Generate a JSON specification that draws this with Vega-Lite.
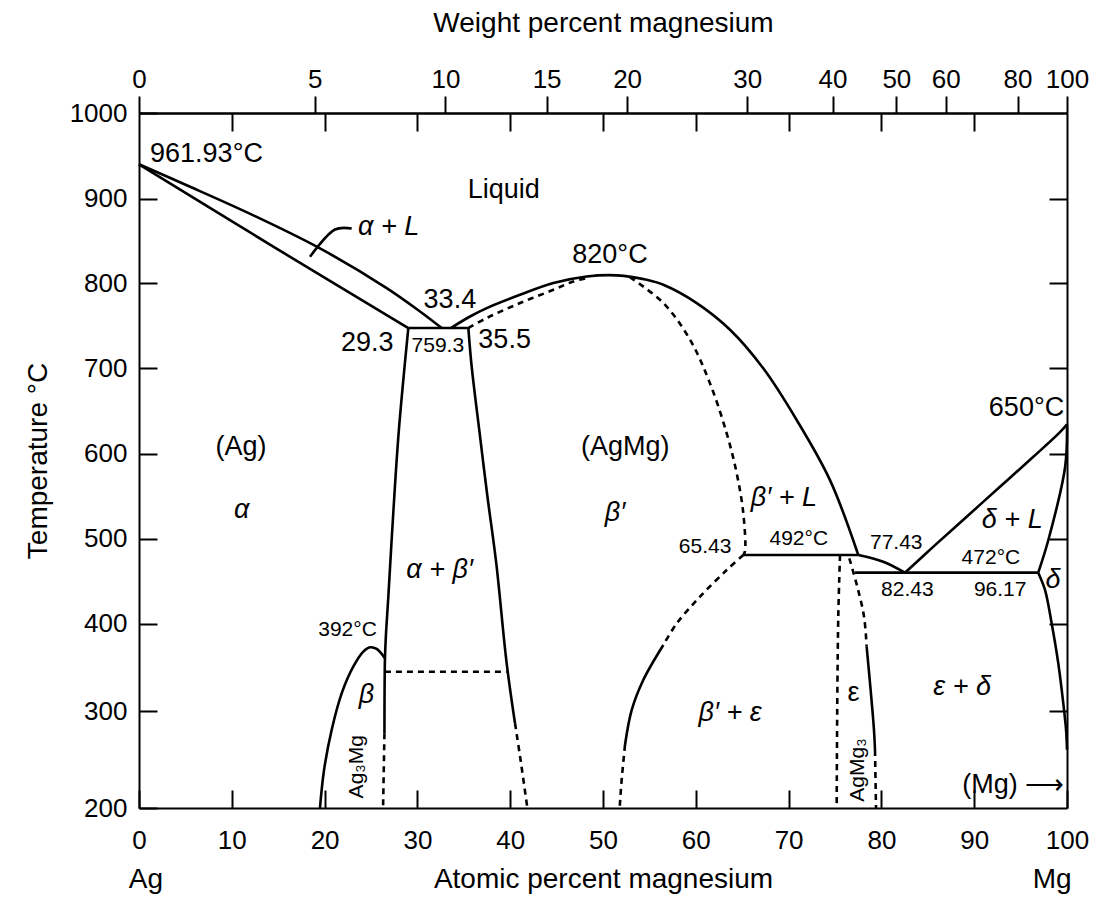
{
  "$schema": "https://vega.github.io/schema/vega-lite/v6.json",
  "width": 928,
  "height": 695,
  "autosize": {"type": "none"},
  "padding": {"left": 139, "top": 113, "right": 32, "bottom": 105},
  "background": "white",
  "config": {
    "view": {"stroke": null},
    "font": "Liberation Sans",
    "axis": {
      "domainColor": "black", "domainWidth": 2, "tickColor": "black", "tickWidth": 2,
      "labelColor": "black", "titleColor": "black", "labelFont": "Liberation Sans", "titleFont": "Liberation Sans",
      "grid": false, "labelFontSize": 26, "titleFontSize": 28, "titleFontWeight": "normal"
    },
    "text": {"font": "Liberation Sans", "color": "black", "baseline": "middle"}
  },
  "resolve": {"axis": {"x": "independent", "y": "independent"}},
  "datasets": {
    "solid": [
      {"id": "s1", "i": 0, "x": 0, "t": 940}, {"id": "s1", "i": 1, "x": 5.14, "t": 915.5}, {"id": "s1", "i": 2, "x": 12.32, "t": 880.1}, {"id": "s1", "i": 3, "x": 19.5, "t": 841}, {"id": "s1", "i": 4, "x": 26.69, "t": 794}, {"id": "s1", "i": 5, "x": 30.28, "t": 766.5}, {"id": "s1", "i": 6, "x": 32.62, "t": 747},
      {"id": "s2", "i": 0, "x": 0, "t": 940}, {"id": "s2", "i": 1, "x": 14.47, "t": 843}, {"id": "s2", "i": 2, "x": 29.02, "t": 747},
      {"id": "s3", "i": 0, "x": 29.02, "t": 747}, {"id": "s3", "i": 1, "x": 35.49, "t": 747},
      {"id": "s4", "i": 0, "x": 33.6, "t": 747}, {"id": "s4", "i": 1, "x": 35.67, "t": 760.6}, {"id": "s4", "i": 2, "x": 37.47, "t": 770.5}, {"id": "s4", "i": 3, "x": 41.06, "t": 786.1}, {"id": "s4", "i": 4, "x": 44.65, "t": 799.9}, {"id": "s4", "i": 5, "x": 48.24, "t": 807.7}, {"id": "s4", "i": 6, "x": 51.5, "t": 809}, {"id": "s4", "i": 7, "x": 54.7, "t": 803.8}, {"id": "s4", "i": 8, "x": 56.5, "t": 797.9}, {"id": "s4", "i": 9, "x": 60.1, "t": 776.4}, {"id": "s4", "i": 10, "x": 63.69, "t": 745}, {"id": "s4", "i": 11, "x": 67.27, "t": 699.6}, {"id": "s4", "i": 12, "x": 70.87, "t": 639.2}, {"id": "s4", "i": 13, "x": 74.46, "t": 568.7}, {"id": "s4", "i": 14, "x": 77.51, "t": 480.6},
      {"id": "s5", "i": 0, "x": 77.51, "t": 480.6}, {"id": "s5", "i": 1, "x": 80.2, "t": 472.7}, {"id": "s5", "i": 2, "x": 82.54, "t": 459.8},
      {"id": "s6", "i": 0, "x": 65.12, "t": 480.6}, {"id": "s6", "i": 1, "x": 77.51, "t": 480.6},
      {"id": "s7", "i": 0, "x": 77.16, "t": 459.8}, {"id": "s7", "i": 1, "x": 96.9, "t": 459.8},
      {"id": "s8", "i": 0, "x": 82.54, "t": 459.8}, {"id": "s8", "i": 1, "x": 85.6, "t": 490.4}, {"id": "s8", "i": 2, "x": 89.19, "t": 525.6}, {"id": "s8", "i": 3, "x": 92.78, "t": 560.9}, {"id": "s8", "i": 4, "x": 96.37, "t": 596.1}, {"id": "s8", "i": 5, "x": 99.25, "t": 625}, {"id": "s8", "i": 6, "x": 100, "t": 634},
      {"id": "s9", "i": 0, "x": 100, "t": 634}, {"id": "s9", "i": 1, "x": 99.8, "t": 584.4}, {"id": "s9", "i": 2, "x": 97.99, "t": 498.2}, {"id": "s9", "i": 3, "x": 96.9, "t": 459.8},
      {"id": "s10", "i": 0, "x": 96.9, "t": 459.8}, {"id": "s10", "i": 1, "x": 97.63, "t": 439.5}, {"id": "s10", "i": 2, "x": 98.35, "t": 400}, {"id": "s10", "i": 3, "x": 99.06, "t": 354.5}, {"id": "s10", "i": 4, "x": 99.6, "t": 308.8}, {"id": "s10", "i": 5, "x": 99.9, "t": 280.4}, {"id": "s10", "i": 6, "x": 100, "t": 260},
      {"id": "s11", "i": 0, "x": 29.02, "t": 747}, {"id": "s11", "i": 1, "x": 28.0, "t": 627}, {"id": "s11", "i": 2, "x": 27.4, "t": 530}, {"id": "s11", "i": 3, "x": 26.87, "t": 432}, {"id": "s11", "i": 4, "x": 26.6, "t": 385}, {"id": "s11", "i": 5, "x": 26.5, "t": 358}, {"id": "s11", "i": 6, "x": 26.45, "t": 277},
      {"id": "s12", "i": 0, "x": 19.5, "t": 200}, {"id": "s12", "i": 1, "x": 19.94, "t": 239.2}, {"id": "s12", "i": 2, "x": 20.76, "t": 280.4}, {"id": "s12", "i": 3, "x": 21.84, "t": 320.2}, {"id": "s12", "i": 4, "x": 23.09, "t": 350.6}, {"id": "s12", "i": 5, "x": 24.17, "t": 367.8}, {"id": "s12", "i": 6, "x": 24.89, "t": 372.8}, {"id": "s12", "i": 7, "x": 25.61, "t": 370.9}, {"id": "s12", "i": 8, "x": 26.5, "t": 360.2},
      {"id": "s13", "i": 0, "x": 35.49, "t": 747}, {"id": "s13", "i": 1, "x": 35.85, "t": 701.5}, {"id": "s13", "i": 2, "x": 36.75, "t": 620}, {"id": "s13", "i": 3, "x": 37.55, "t": 549.1}, {"id": "s13", "i": 4, "x": 38.5, "t": 470.8}, {"id": "s13", "i": 5, "x": 39.62, "t": 354.5}, {"id": "s13", "i": 6, "x": 40.52, "t": 287.3},
      {"id": "s14", "i": 0, "x": 56.5, "t": 375.4}, {"id": "s14", "i": 1, "x": 54.34, "t": 335.4}, {"id": "s14", "i": 2, "x": 53.09, "t": 301}, {"id": "s14", "i": 3, "x": 52.37, "t": 265},
      {"id": "s15", "i": 0, "x": 78.41, "t": 373.5}, {"id": "s15", "i": 1, "x": 78.84, "t": 324}, {"id": "s15", "i": 2, "x": 79.2, "t": 280.4}, {"id": "s15", "i": 3, "x": 79.31, "t": 259.8},
      {"id": "s16", "i": 0, "x": 18.43, "t": 831.1}, {"id": "s16", "i": 1, "x": 21.12, "t": 863.3}, {"id": "s16", "i": 2, "x": 22.92, "t": 864.5}
    ],
    "dashed": [
      {"id": "d1", "i": 0, "x": 35.49, "t": 747}, {"id": "d1", "i": 1, "x": 37.47, "t": 758.8}, {"id": "d1", "i": 2, "x": 41.06, "t": 776.4}, {"id": "d1", "i": 3, "x": 44.65, "t": 792}, {"id": "d1", "i": 4, "x": 46.8, "t": 801.8}, {"id": "d1", "i": 5, "x": 48.5, "t": 806.5},
      {"id": "d2", "i": 0, "x": 52.9, "t": 807}, {"id": "d2", "i": 1, "x": 56.5, "t": 776.4}, {"id": "d2", "i": 2, "x": 59.38, "t": 733.3}, {"id": "d2", "i": 3, "x": 61.53, "t": 682}, {"id": "d2", "i": 4, "x": 63.33, "t": 623.6}, {"id": "d2", "i": 5, "x": 64.41, "t": 576.6}, {"id": "d2", "i": 6, "x": 65.12, "t": 529.6}, {"id": "d2", "i": 7, "x": 65.3, "t": 484.9}, {"id": "d2", "i": 8, "x": 65.12, "t": 480.6},
      {"id": "d3", "i": 0, "x": 26.45, "t": 277}, {"id": "d3", "i": 1, "x": 26.3, "t": 200},
      {"id": "d4", "i": 0, "x": 26.5, "t": 344.9}, {"id": "d4", "i": 1, "x": 39.62, "t": 344.9},
      {"id": "d5", "i": 0, "x": 40.52, "t": 287.3}, {"id": "d5", "i": 1, "x": 41.06, "t": 253.3}, {"id": "d5", "i": 2, "x": 41.78, "t": 204.8}, {"id": "d5", "i": 3, "x": 41.85, "t": 200},
      {"id": "d6", "i": 0, "x": 65.12, "t": 480.6}, {"id": "d6", "i": 1, "x": 63.33, "t": 462.9}, {"id": "d6", "i": 2, "x": 60.45, "t": 431.5}, {"id": "d6", "i": 3, "x": 57.94, "t": 400}, {"id": "d6", "i": 4, "x": 56.5, "t": 375.4},
      {"id": "d7", "i": 0, "x": 52.37, "t": 265}, {"id": "d7", "i": 1, "x": 52.01, "t": 228.9}, {"id": "d7", "i": 2, "x": 51.83, "t": 205}, {"id": "d7", "i": 3, "x": 51.8, "t": 200},
      {"id": "d8", "i": 0, "x": 75.54, "t": 480.6}, {"id": "d8", "i": 1, "x": 75.36, "t": 412}, {"id": "d8", "i": 2, "x": 75.25, "t": 316.3}, {"id": "d8", "i": 3, "x": 75.18, "t": 200},
      {"id": "d9", "i": 0, "x": 76.54, "t": 476.7}, {"id": "d9", "i": 1, "x": 77.4, "t": 443.4}, {"id": "d9", "i": 2, "x": 78.13, "t": 408}, {"id": "d9", "i": 3, "x": 78.41, "t": 373.5},
      {"id": "d10", "i": 0, "x": 79.31, "t": 259.8}, {"id": "d10", "i": 1, "x": 79.42, "t": 200}
    ],
    "labelsC": [
      {"label": "Liquid", "x": 39.3, "t": 910.3},
      {"label": "33.4", "x": 33.5, "t": 780.3},
      {"label": "29.3", "x": 24.6, "t": 729.4},
      {"label": "35.5", "x": 39.4, "t": 733.3},
      {"label": "820°C", "x": 50.75, "t": 833},
      {"label": "(Ag)", "x": 11.0, "t": 608},
      {"label": "(AgMg)", "x": 52.4, "t": 608},
      {"label": "ε", "x": 77.0, "t": 320.2}
    ],
    "labelsL": [
      {"label": "961.93°C", "x": 1.19, "t": 952.3}
    ],
    "labelsR": [
      {"label": "650°C", "x": 99.7, "t": 653},
      {"label": "(Mg) ⟶", "x": 99.7, "t": 223.7}
    ],
    "labelsI": [
      {"label": "α", "x": 11.07, "t": 533.5},
      {"label": "β′", "x": 51.3, "t": 529.6},
      {"label": "α + β′", "x": 32.4, "t": 463},
      {"label": "β", "x": 24.5, "t": 318.3},
      {"label": "β′ + L", "x": 69.5, "t": 547.2},
      {"label": "δ + L", "x": 94.1, "t": 521.7},
      {"label": "δ", "x": 98.5, "t": 451.2},
      {"label": "β′ + ε", "x": 63.7, "t": 297.6},
      {"label": "ε + δ", "x": 88.7, "t": 327.8}
    ],
    "labelsIL": [
      {"label": "α + L", "x": 23.6, "t": 866}
    ],
    "labelsS": [
      {"label": "759.3", "x": 32.2, "t": 725.4},
      {"label": "392°C", "x": 22.47, "t": 392.6},
      {"label": "65.43", "x": 61.0, "t": 490.4},
      {"label": "492°C", "x": 71.1, "t": 499},
      {"label": "77.43", "x": 81.6, "t": 494.4},
      {"label": "472°C", "x": 91.8, "t": 476.7},
      {"label": "82.43", "x": 82.8, "t": 439.5},
      {"label": "96.17", "x": 92.8, "t": 439.5}
    ],
    "labelsRot": [
      {"label": "Ag₃Mg", "x": 23.45, "t": 242.6},
      {"label": "AgMg₃", "x": 77.5, "t": 239.2}
    ],
    "labelsB": [
      {"label": "Ag", "x": 0.75, "t": 125.8},
      {"label": "Mg", "x": 98.4, "t": 125.8}
    ]
  },
  "layer": [
    {
      "data": {"name": "solid"},
      "mark": {"type": "line", "color": "black", "strokeWidth": 2.6, "interpolate": "catmull-rom"},
      "encoding": {
        "x": {"field": "x", "type": "quantitative", "scale": {"domain": [0, 100], "nice": false, "zero": false},
          "axis": {"orient": "bottom", "values": [0, 10, 20, 30, 40, 50, 60, 70, 80, 90, 100], "tickSize": -18, "labelPadding": 37, "labelFlush": false, "labelOverlap": false, "title": "Atomic percent magnesium", "titlePadding": 12}},
        "y": {"field": "t", "type": "quantitative", "scale": {"domain": [200, 300, 400, 500, 600, 700, 800, 900, 1000], "range": [695, 598, 510.5, 425.5, 340.5, 255, 170, 85.5, 0], "nice": false, "zero": false},
          "axis": {"orient": "left", "values": [200, 300, 400, 500, 600, 700, 800, 900, 1000], "format": "d", "tickSize": -18, "labelPadding": 30, "labelOverlap": false, "labelFlush": false, "title": "Temperature °C", "titlePadding": 17}},
        "detail": {"field": "id"},
        "order": {"field": "i", "type": "quantitative"}
      }
    },
    {
      "data": {"name": "dashed"},
      "mark": {"type": "line", "color": "black", "strokeWidth": 2.6, "strokeDash": [6, 5], "interpolate": "catmull-rom"},
      "encoding": {
        "x": {"field": "x", "type": "quantitative", "scale": {"domain": [0, 100], "nice": false, "zero": false},
          "axis": {"orient": "top", "values": [10, 20, 30, 40, 50, 60, 70, 80, 90], "tickSize": -18, "labels": false, "title": null}},
        "y": {"field": "t", "type": "quantitative", "scale": {"domain": [200, 300, 400, 500, 600, 700, 800, 900, 1000], "range": [695, 598, 510.5, 425.5, 340.5, 255, 170, 85.5, 0], "nice": false, "zero": false},
          "axis": {"orient": "right", "values": [300, 400, 500, 600, 700, 800, 900], "tickSize": -18, "labels": false, "title": null}},
        "detail": {"field": "id"},
        "order": {"field": "i", "type": "quantitative"}
      }
    },
    {
      "data": {"name": "labelsC"},
      "mark": {"type": "text", "fontSize": 27, "align": "center"},
      "encoding": {
        "x": {"field": "x", "type": "quantitative", "scale": {"domain": [0, 100], "nice": false, "zero": false},
          "axis": {"orient": "top", "values": [0, 18.935, 33.026, 43.921, 52.596, 65.542, 74.739, 81.611, 86.94, 94.667, 100], "tickSize": 17, "labelPadding": 4, "labelFlush": false, "labelOverlap": false,
            "labelExpr": "format(100*datum.value*24.305/(datum.value*24.305+(100-datum.value)*107.868), '.0f')",
            "title": "Weight percent magnesium", "titlePadding": 29}},
        "y": {"field": "t", "type": "quantitative", "scale": {"domain": [200, 300, 400, 500, 600, 700, 800, 900, 1000], "range": [695, 598, 510.5, 425.5, 340.5, 255, 170, 85.5, 0], "nice": false, "zero": false}, "axis": null},
        "text": {"field": "label"}
      }
    },
    {
      "data": {"name": "labelsL"},
      "mark": {"type": "text", "fontSize": 27, "align": "left"},
      "encoding": {
        "x": {"field": "x", "type": "quantitative", "scale": {"domain": [0, 100], "nice": false, "zero": false}, "axis": null},
        "y": {"field": "t", "type": "quantitative", "scale": {"domain": [200, 300, 400, 500, 600, 700, 800, 900, 1000], "range": [695, 598, 510.5, 425.5, 340.5, 255, 170, 85.5, 0], "nice": false, "zero": false}, "axis": null},
        "text": {"field": "label"}
      }
    },
    {
      "data": {"name": "labelsR"},
      "mark": {"type": "text", "fontSize": 27, "align": "right"},
      "encoding": {
        "x": {"field": "x", "type": "quantitative", "scale": {"domain": [0, 100], "nice": false, "zero": false}, "axis": null},
        "y": {"field": "t", "type": "quantitative", "scale": {"domain": [200, 300, 400, 500, 600, 700, 800, 900, 1000], "range": [695, 598, 510.5, 425.5, 340.5, 255, 170, 85.5, 0], "nice": false, "zero": false}, "axis": null},
        "text": {"field": "label"}
      }
    },
    {
      "data": {"name": "labelsI"},
      "mark": {"type": "text", "fontSize": 27, "align": "center", "fontStyle": "italic"},
      "encoding": {
        "x": {"field": "x", "type": "quantitative", "scale": {"domain": [0, 100], "nice": false, "zero": false}, "axis": null},
        "y": {"field": "t", "type": "quantitative", "scale": {"domain": [200, 300, 400, 500, 600, 700, 800, 900, 1000], "range": [695, 598, 510.5, 425.5, 340.5, 255, 170, 85.5, 0], "nice": false, "zero": false}, "axis": null},
        "text": {"field": "label"}
      }
    },
    {
      "data": {"name": "labelsIL"},
      "mark": {"type": "text", "fontSize": 27, "align": "left", "fontStyle": "italic"},
      "encoding": {
        "x": {"field": "x", "type": "quantitative", "scale": {"domain": [0, 100], "nice": false, "zero": false}, "axis": null},
        "y": {"field": "t", "type": "quantitative", "scale": {"domain": [200, 300, 400, 500, 600, 700, 800, 900, 1000], "range": [695, 598, 510.5, 425.5, 340.5, 255, 170, 85.5, 0], "nice": false, "zero": false}, "axis": null},
        "text": {"field": "label"}
      }
    },
    {
      "data": {"name": "labelsS"},
      "mark": {"type": "text", "fontSize": 21, "align": "center"},
      "encoding": {
        "x": {"field": "x", "type": "quantitative", "scale": {"domain": [0, 100], "nice": false, "zero": false}, "axis": null},
        "y": {"field": "t", "type": "quantitative", "scale": {"domain": [200, 300, 400, 500, 600, 700, 800, 900, 1000], "range": [695, 598, 510.5, 425.5, 340.5, 255, 170, 85.5, 0], "nice": false, "zero": false}, "axis": null},
        "text": {"field": "label"}
      }
    },
    {
      "data": {"name": "labelsRot"},
      "mark": {"type": "text", "fontSize": 21, "align": "center", "angle": 270},
      "encoding": {
        "x": {"field": "x", "type": "quantitative", "scale": {"domain": [0, 100], "nice": false, "zero": false}, "axis": null},
        "y": {"field": "t", "type": "quantitative", "scale": {"domain": [200, 300, 400, 500, 600, 700, 800, 900, 1000], "range": [695, 598, 510.5, 425.5, 340.5, 255, 170, 85.5, 0], "nice": false, "zero": false}, "axis": null},
        "text": {"field": "label"}
      }
    },
    {
      "data": {"name": "labelsB"},
      "mark": {"type": "text", "fontSize": 28, "align": "center"},
      "encoding": {
        "x": {"field": "x", "type": "quantitative", "scale": {"domain": [0, 100], "nice": false, "zero": false}, "axis": null},
        "y": {"field": "t", "type": "quantitative", "scale": {"domain": [200, 300, 400, 500, 600, 700, 800, 900, 1000], "range": [695, 598, 510.5, 425.5, 340.5, 255, 170, 85.5, 0], "nice": false, "zero": false}, "axis": null},
        "text": {"field": "label"}
      }
    }
  ]
}
